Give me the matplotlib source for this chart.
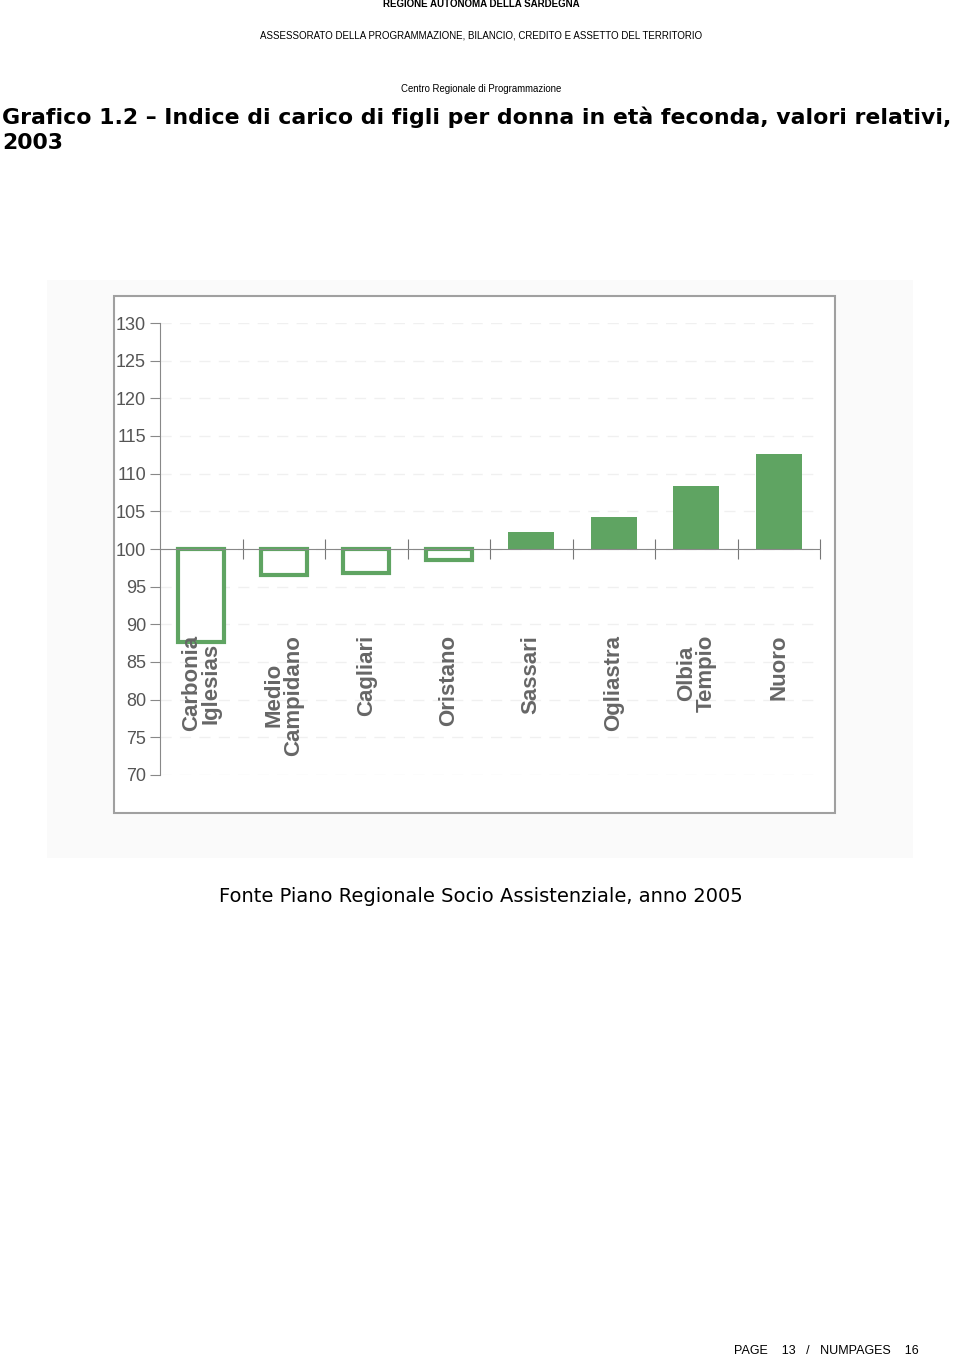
import matplotlib.pyplot as plt
from matplotlib.patches import Rectangle

# data (index, base 100)
province = ['Carbonia\nIglesias', 'Medio\nCampidano', 'Cagliari', 'Oristano',
            'Sassari', 'Ogliastra', 'Olbia\nTempio', 'Nuoro']
indice = [87.6, 96.5, 96.8, 98.6, 102.3, 104.3, 108.4, 112.6]
base = 100
yticks = [70, 75, 80, 85, 90, 95, 100, 105, 110, 115, 120, 125, 130]

green = '#5fa462'
grey = '#666666'
plt.rcParams['font.family'] = ['Liberation Sans', 'DejaVu Sans']

fig = plt.figure(figsize=(9.6, 13.59), dpi=100)
W, H = 960, 1359

def fx(px):
    return px / W

def fy(py):
    return 1 - py / H

# page header / title / footer
fig.text(fx(481), fy(4), 'REGIONE AUTONOMA DELLA SARDEGNA', ha='center', va='center',
         fontsize=7, fontweight='bold')
fig.text(fx(481), fy(35), 'ASSESSORATO DELLA PROGRAMMAZIONE, BILANCIO, CREDITO E ASSETTO DEL TERRITORIO',
         ha='center', va='center', fontsize=7)
fig.text(fx(481), fy(89), 'Centro Regionale di Programmazione', ha='center', va='center', fontsize=6.9)
fig.text(fx(2), fy(117), 'Grafico 1.2 \u2013 Indice di carico di figli per donna in et\u00e0 feconda, valori relativi,',
         ha='left', va='center', fontsize=15.8, fontweight='bold', family='DejaVu Sans')
fig.text(fx(2), fy(143), '2003', ha='left', va='center', fontsize=15.8, fontweight='bold',
         family='DejaVu Sans')
fig.text(fx(481), fy(897), 'Fonte Piano Regionale Socio Assistenziale, anno 2005', ha='center', va='center',
         fontsize=14, family='DejaVu Sans')
fig.text(fx(919), fy(1351), 'PAGE    13   /   NUMPAGES    16', ha='right', va='center', fontsize=9)

# scanned picture background and frame
fig.patches.append(Rectangle((fx(47), fy(858)), fx(913 - 47), (858 - 280) / H,
                             transform=fig.transFigure, facecolor='#fafafa', edgecolor='none', zorder=0))
fig.patches.append(Rectangle((fx(114), fy(813)), fx(835 - 114), (813 - 296) / H,
                             transform=fig.transFigure, facecolor='white', edgecolor='#a0a0a0',
                             linewidth=1.5, zorder=1))

ax = fig.add_axes([fx(160), fy(775), fx(820 - 160), (775 - 323) / H])
ax.set_zorder(2)
ax.patch.set_alpha(0)

x = list(range(len(province)))
for xi, v in zip(x, indice):
    if v < base:
        ax.bar(xi, v - base, bottom=base, width=0.56, facecolor='white', edgecolor=green,
               linewidth=3, zorder=3)
    else:
        ax.bar(xi, v - base, bottom=base, width=0.56, color=green, zorder=3)

for xi, name in zip(x, province):
    ax.text(xi, 88.6, name, rotation=90, ha='center', va='top', multialignment='center',
            fontsize=16, color=grey, fontweight='bold', linespacing=0.95, zorder=4)

ax.set_xlim(-0.5, 7.5)
ax.set_ylim(70, 130)
ax.set_yticks(yticks)
for y in yticks:
    ax.axhline(y, color='#f0f0f0', linewidth=1, linestyle=(0, (8, 6)), zorder=1)

ax.spines['top'].set_visible(False)
ax.spines['right'].set_visible(False)
ax.spines['left'].set_color('#888888')
ax.spines['bottom'].set_position(('data', base))
ax.spines['bottom'].set_color('#888888')
ax.spines['bottom'].set_zorder(5)

ax.set_xticks([i + 0.5 for i in x])
ax.set_xticklabels([])
ax.tick_params(axis='x', direction='inout', length=14, color='#777777')
ax.tick_params(axis='y', direction='out', length=7, color='#888888', labelsize=13,
               labelcolor='#555555', pad=3)

fig.savefig('out.png', dpi=100)
